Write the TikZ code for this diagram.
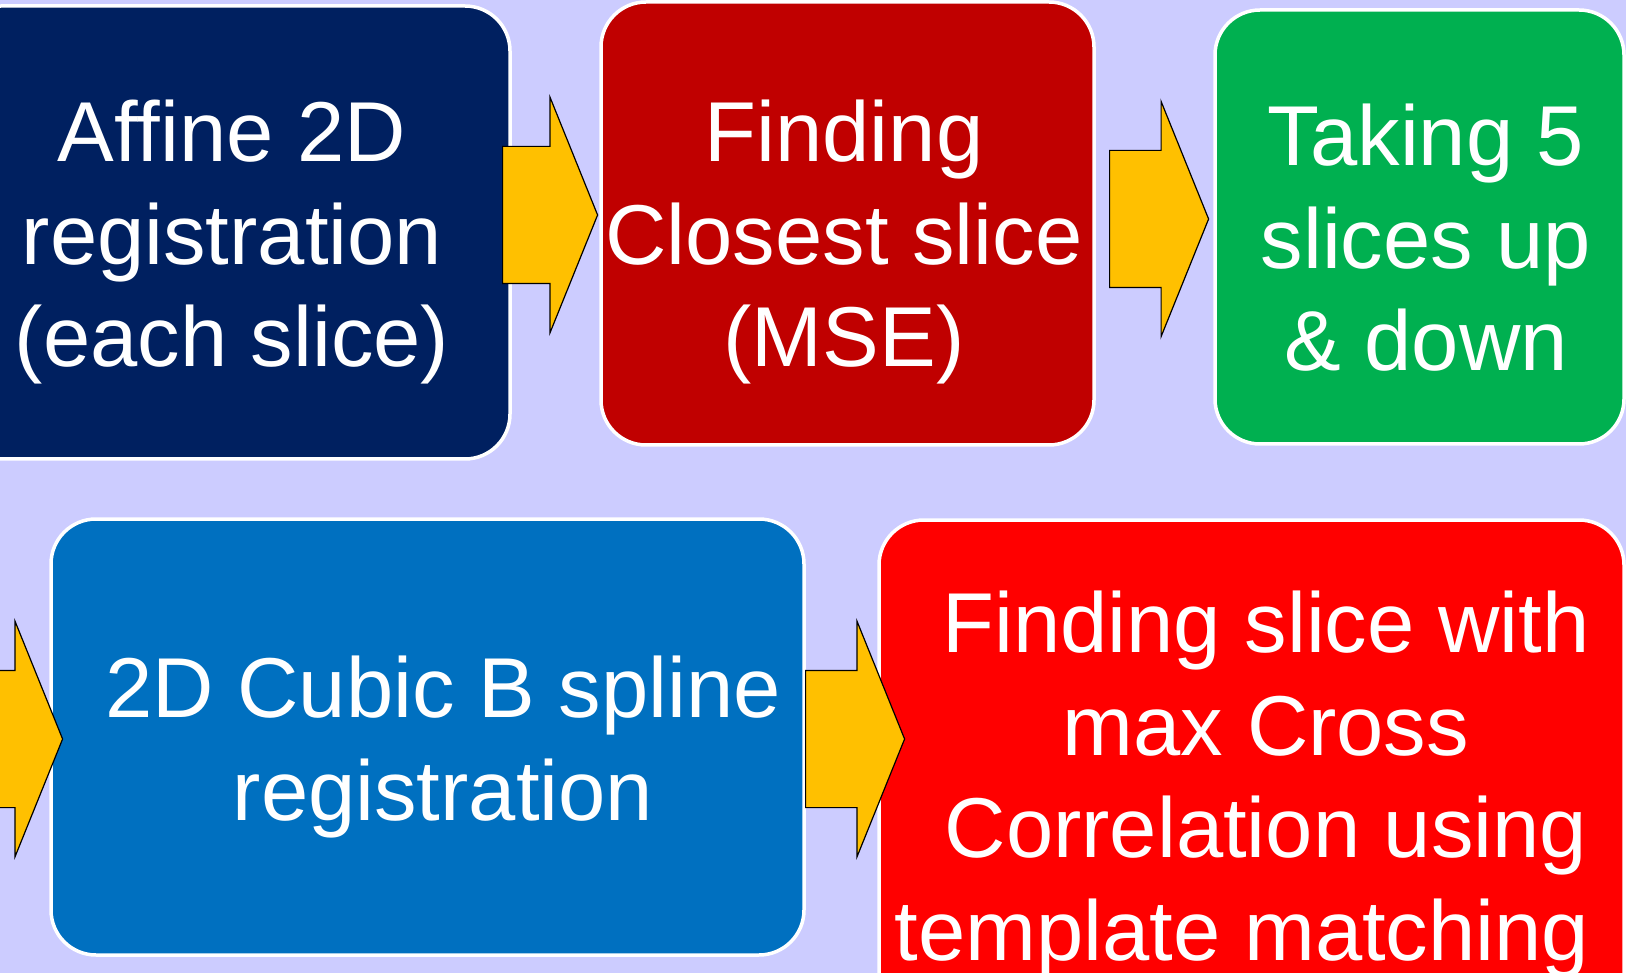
\documentclass[tikz,border=0pt]{standalone}
\usepackage{fontspec}
\setmainfont{Liberation Sans}
\usetikzlibrary{shapes.arrows}

\definecolor{slidebg}{HTML}{CCCCFF}
\definecolor{affineblue}{HTML}{002060}
\definecolor{closestred}{HTML}{C00000}
\definecolor{takinggreen}{HTML}{00B050}
\definecolor{splineblue}{HTML}{0070C0}
\definecolor{crossred}{HTML}{FF0000}
\definecolor{arrowgold}{HTML}{FFC000}

\begin{document}
\begin{tikzpicture}[x=1pt,y=-1pt]
  \tikzset{stepbox/.style={rectangle,rounded corners=45pt,draw=white,
      line width=3.5pt,fill=#1,inner sep=0pt}}
  \tikzset{steptext/.style={anchor=base,align=center,text=white,
      font=\fontsize{85}{102.5}\selectfont}}
  \tikzset{blockarrow/.style={single arrow,anchor=tail,draw=black,
      line width=1.2pt,fill=arrowgold,inner xsep=0pt,inner ysep=68pt,
      single arrow head extend=49pt,single arrow tip angle=136}}

  %% The slide is cut out of a bigger one, so the boxes at the
  %% edges run off it.  Clip and paint the background first.
  \clip (0,0) rectangle (1626,973);
  \fill[slidebg] (0,0) rectangle (1626,973);

  %% Draw the boxes
  \node[stepbox=affineblue,  minimum width=554pt, minimum height=453pt] (affine)    at (233,232.5)   {};
  \node[stepbox=closestred,  minimum width=493pt, minimum height=443pt] (closest)   at (847.5,223.5) {};
  \node[stepbox=takinggreen, minimum width=409pt, minimum height=434pt] (taking)    at (1419.5,227)  {};
  \node[stepbox=splineblue,  minimum width=753pt, minimum height=436pt] (spline)    at (427.5,737)   {};
  \node[stepbox=crossred,    minimum width=745pt, minimum height=530pt] (crosscorr) at (1251.5,785)  {};

  %% Write the texts.  The base anchor of a multi-line node is the
  %% baseline of its last line.
  \node[steptext] (affinetext)    at (232,367)  {Affine 2D\\registration\\(each slice)};
  \node[steptext] (closesttext)   at (844,367)  {Finding\\Closest slice\\(MSE)};
  \node[steptext] (takingtext)    at (1426,371) {Taking 5\\slices up\\\& down};
  \node[steptext] (splinetext)    at (443,820)  {2D Cubic B spline\\registration};
  \node[steptext] (crosscorrtext) at (1266,960) {Finding slice with\\max Cross\\Correlation using\\\hspace*{-48pt}template matching};

  %% Draw the block arrows on top, their tails sit in the boxes
  \node[blockarrow, minimum height=95pt] (arrowone)   at (502,215)  {};
  \node[blockarrow, minimum height=99pt] (arrowtwo)   at (1109,219) {};
  \node[blockarrow, minimum height=99pt] (arrowthree) at (-37,739)  {};
  \node[blockarrow, minimum height=99pt] (arrowfour)  at (805,739)  {};
\end{tikzpicture}
\end{document}
